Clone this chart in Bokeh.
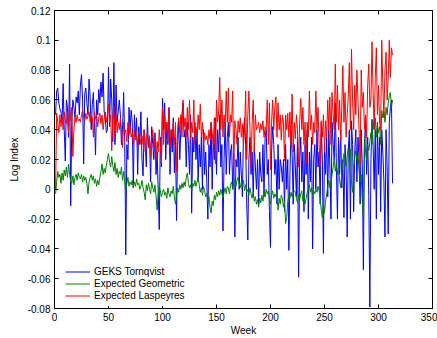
from bokeh.plotting import figure
from bokeh.models import LinearAxis, FixedTicker, CustomJSTickFormatter, Legend, LegendItem, Range1d
from bokeh.embed import file_html
from bokeh.resources import INLINE

x_ticks = [0, 50, 100, 150, 200, 250, 300, 350]
y_ticks = [-0.08, -0.06, -0.04, -0.02, 0.0, 0.02, 0.04, 0.06, 0.08, 0.1, 0.12]

series_names = ["GEKS Tornqvist", "Expected Geometric", "Expected Laspeyres"]

geks_tornqvist = [
    0.050, 0.066, 0.068, 0.058, 0.054, 0.052, 0.045, 0.071, 0.040, 0.019,
    0.060, 0.055, 0.035, 0.084, -0.011, 0.045, 0.060, 0.055, 0.048, 0.062,
    0.058, 0.066, 0.050, 0.070, 0.077, 0.060, 0.017, 0.064, 0.068, 0.058,
    0.050, 0.074, 0.062, 0.040, 0.057, 0.065, 0.045, 0.023, 0.060, 0.050,
    0.067, 0.058, 0.072, 0.062, 0.078, 0.052, 0.048, 0.038, 0.040, 0.082,
    0.042, 0.074, 0.060, 0.032, 0.085, 0.030, 0.070, 0.045, 0.052, 0.060,
    0.050, 0.030, 0.040, 0.065, 0.035, -0.044, 0.030, 0.020, 0.055, 0.040,
    0.053, 0.045, 0.001, 0.050, 0.035, 0.048, 0.010, 0.042, 0.030, 0.052,
    0.020, 0.009, 0.040, 0.030, 0.015, 0.048, 0.028, 0.035, 0.005, 0.042,
    0.030, 0.020, 0.038, 0.010, 0.025, 0.000, -0.027, 0.035, 0.015, 0.061,
    0.040, 0.058, 0.020, 0.045, 0.030, 0.055, 0.010, 0.040, 0.025, 0.048,
    0.011, 0.035, -0.021, 0.030, 0.045, 0.020, 0.040, 0.050, 0.058, 0.035,
    0.040, 0.015, 0.045, 0.030, 0.010, 0.050, -0.016, 0.035, 0.025, 0.045,
    0.020, 0.040, 0.005, 0.030, 0.015, 0.035, 0.000, 0.040, 0.010, 0.025,
    0.005, -0.020, 0.030, 0.015, 0.045, 0.000, 0.035, 0.020, 0.048, 0.010,
    0.040, 0.025, 0.050, 0.015, 0.030, -0.028, 0.020, 0.045, 0.010, 0.035,
    0.045, 0.010, 0.025, 0.030, 0.000, 0.024, -0.032, 0.020, 0.015, 0.035,
    0.000, 0.025, 0.010, -0.005, 0.040, 0.048, 0.030, -0.010, -0.034, 0.020,
    0.035, 0.010, 0.025, -0.005, 0.030, 0.015, 0.000, 0.020, -0.010, 0.025,
    0.010, 0.005, 0.030, -0.005, 0.035, 0.040, 0.010, 0.020, -0.015, -0.039,
    0.025, 0.042, 0.030, 0.010, 0.020, -0.010, 0.030, 0.000, 0.020, 0.015,
    0.005, 0.020, -0.015, 0.030, 0.000, 0.020, -0.041, 0.010, 0.040, 0.025,
    -0.010, 0.030, 0.015, -0.005, 0.035, -0.059, 0.020, 0.035, 0.005, 0.025,
    -0.015, 0.030, 0.010, 0.040, -0.020, 0.025, 0.005, 0.035, -0.040, 0.020,
    0.030, 0.000, 0.040, 0.015, 0.025, -0.010, 0.045, 0.020, -0.043, 0.030,
    0.010, 0.035, -0.005, 0.040, 0.015, -0.020, 0.045, 0.030, 0.020, 0.058,
    0.015, -0.020, 0.035, 0.010, 0.040, 0.001, 0.020, -0.019, 0.030, 0.015,
    -0.032, 0.025, 0.040, -0.020, 0.046, 0.030, -0.015, 0.025, 0.040, 0.005,
    0.035, 0.020, -0.010, 0.040, 0.015, -0.054, 0.030, 0.048, 0.010, 0.035,
    -0.005, -0.079, 0.020, 0.047, 0.030, 0.000, 0.040, -0.020, 0.045, 0.010,
    0.035, -0.015, 0.040, 0.025, 0.005, -0.032, 0.040, 0.015, -0.030, 0.045,
    0.055, 0.060, 0.004,
]

expected_geometric = [
    -0.003, 0.005, 0.012, 0.008, 0.010, 0.004, 0.011, 0.006, 0.013, 0.009,
    0.015, 0.008, 0.017, 0.010, 0.005, 0.004, 0.009, 0.003, 0.008, 0.010,
    0.006, 0.011, 0.008, 0.007, 0.010, 0.005, 0.009, 0.006, 0.008, 0.004,
    -0.003, 0.005, 0.008, 0.010, 0.006, 0.009, 0.004, 0.007, 0.002, 0.006,
    0.003, 0.008, 0.012, 0.017, 0.010, 0.014, 0.011, 0.016, 0.020, 0.024,
    0.018, 0.015, 0.022, 0.016, 0.012, 0.018, 0.010, 0.014, 0.008, 0.012,
    0.010, 0.015, 0.006, 0.012, 0.005, -0.001, 0.004, 0.008, 0.002, 0.005,
    0.003, 0.006, 0.001, 0.005, 0.002, 0.007, 0.003, 0.004, 0.000, 0.002,
    0.006, 0.001, -0.002, -0.007, 0.003, -0.001, 0.004, 0.000, -0.003, 0.005,
    0.001, -0.002, 0.003, -0.004, -0.014, -0.003, 0.002, -0.001, -0.005, -0.002,
    0.000, -0.004, -0.002, -0.006, 0.001, -0.003, -0.005, -0.001, -0.003, 0.002,
    -0.005, -0.010, -0.004, 0.001, -0.002, 0.003, 0.000, 0.004, 0.001, 0.005,
    0.002, 0.008, 0.011, 0.004, 0.001, 0.003, -0.001, 0.004, 0.002, 0.006,
    0.002, 0.005, 0.008, 0.003, -0.002, 0.001, -0.004, 0.002, -0.001, -0.005,
    -0.003, -0.009, -0.005, -0.012, -0.016, -0.008, -0.011, -0.004, -0.007, -0.002,
    -0.005, -0.001, -0.004, 0.000, -0.003, -0.006, -0.002, 0.001, -0.003, 0.002,
    0.001, -0.003, 0.003, 0.005, 0.000, 0.004, 0.007, 0.002, 0.006, 0.008,
    0.004, 0.001, 0.005, 0.002, 0.006, -0.001, 0.003, -0.002, 0.000, -0.004,
    0.001, -0.003, -0.006, -0.002, -0.008, -0.005, -0.010, -0.007, -0.012, -0.006,
    -0.009, -0.004, -0.008, -0.002, -0.005, 0.000, -0.003, -0.001, -0.007, -0.010,
    -0.004, -0.001, -0.006, -0.003, -0.005, -0.002, -0.014, -0.006, -0.010, -0.004,
    -0.006, -0.012, -0.008, -0.023, -0.019, -0.008, -0.004, -0.006, -0.002, -0.005,
    -0.003, -0.001, -0.002, -0.006, -0.009, -0.004, -0.007, -0.003, -0.001, -0.008,
    -0.004, -0.010, -0.006, -0.002, 0.000, 0.003, -0.002, 0.001, -0.004, -0.001,
    -0.003, 0.000, -0.002, 0.002, -0.001, -0.006, -0.014, -0.019, -0.010, -0.016,
    -0.008, -0.003, 0.002, 0.006, 0.001, 0.004, 0.010, 0.015, 0.021, 0.012,
    0.017, 0.010, 0.013, 0.006, 0.001, 0.012, 0.018, 0.024, 0.020, 0.015,
    0.022, 0.028, 0.024, 0.027, 0.004, -0.002, 0.015, 0.022, 0.026, 0.020,
    0.023, 0.013, 0.005, 0.010, -0.008, -0.019, 0.035, 0.025, 0.020, 0.030,
    0.026, 0.032, 0.038, 0.030, 0.046, 0.040, 0.048, 0.035, 0.044, 0.038,
    0.042, 0.030, 0.053, 0.048, 0.052, 0.045, 0.055, 0.050, 0.058, 0.063,
    0.065, 0.055, 0.060,
]

expected_laspeyres = [
    0.000, 0.051, 0.045, 0.038, 0.050, 0.042, 0.048, 0.040, 0.052, 0.046,
    0.044, 0.050, 0.038, 0.056, 0.046, 0.055, 0.022, 0.040, 0.048, 0.045,
    0.050, 0.046, 0.047, 0.045, 0.050, 0.053, 0.048, 0.046, 0.051, 0.047,
    0.049, 0.052, 0.045, 0.050, 0.048, 0.035, 0.052, 0.047, 0.050, 0.042,
    0.048, 0.051, 0.044, 0.050, 0.040, 0.047, 0.052, 0.045, 0.050, 0.057,
    0.045, 0.050, 0.026, 0.048, 0.056, 0.035, 0.050, 0.038, 0.045, 0.040,
    0.048, 0.040, 0.028, 0.045, 0.038, 0.040, 0.032, 0.045, 0.036, 0.042,
    0.035, 0.038, 0.030, 0.040, 0.033, 0.036, 0.028, 0.038, 0.034, 0.031,
    0.036, 0.030, 0.040, 0.025, 0.035, 0.038, 0.028, 0.036, 0.022, 0.034,
    0.040, 0.028, 0.035, 0.020, 0.032, 0.025, 0.040, 0.030, 0.018, 0.055,
    0.030, 0.050, 0.038, 0.045, 0.032, 0.054, 0.028, 0.040, 0.035, 0.045,
    0.030, 0.045, 0.012, 0.040, 0.048, 0.038, 0.050, 0.035, 0.060, 0.042,
    0.048, 0.035, 0.055, 0.040, 0.060, 0.033, 0.045, 0.038, 0.060, 0.030,
    0.042, 0.036, 0.050, 0.040, 0.057, 0.035, 0.045, 0.030, 0.038, 0.033,
    0.036, 0.030, 0.040, 0.034, 0.045, 0.038, 0.030, 0.048, 0.017, 0.060,
    0.045, 0.052, 0.075, 0.040, 0.060, 0.035, 0.050, 0.042, 0.066, 0.045,
    0.068, 0.035, 0.050, 0.045, 0.066, 0.015, 0.046, 0.040, 0.030, 0.046,
    0.038, 0.048, 0.035, 0.044, 0.030, 0.040, 0.066, 0.020, 0.050, 0.066,
    0.040, 0.014, 0.045, 0.060, 0.025, 0.050, 0.040, 0.042, 0.045, 0.038,
    0.044, 0.040, 0.046, 0.035, 0.042, 0.040, 0.060, 0.030, 0.058, 0.013,
    0.045, 0.060, 0.040, 0.055, 0.062, 0.035, 0.058, 0.040, 0.050, 0.033,
    0.050, 0.045, 0.019, 0.050, 0.040, 0.051, 0.035, 0.052, 0.030, 0.064,
    0.025, 0.045, 0.034, 0.050, 0.040, 0.015, 0.045, 0.061, 0.040, 0.055,
    0.030, 0.045, 0.017, 0.045, 0.035, 0.066, 0.040, 0.050, 0.030, 0.045,
    0.038, 0.066, 0.040, 0.055, 0.030, 0.016, 0.046, 0.035, 0.050, 0.025,
    0.046, 0.035, 0.060, 0.040, 0.062, 0.030, 0.065, 0.050, 0.040, 0.084,
    0.045, 0.070, 0.040, 0.060, 0.032, 0.055, 0.083, 0.045, 0.065, 0.035,
    0.050, 0.062, 0.085, 0.040, 0.094, 0.060, 0.040, 0.070, 0.050, 0.080,
    0.060, 0.040, 0.017, 0.080, 0.055, 0.065, 0.040, 0.050, 0.035, 0.070,
    0.084, 0.055, 0.060, 0.099, 0.065, 0.040, 0.075, 0.095, 0.050, 0.070,
    0.045, 0.040, 0.100, 0.070, 0.048, 0.080, 0.092, 0.060, 0.075, 0.100,
    0.075, 0.095, 0.090,
]

FONT = "Liberation Sans"

p = figure(width=437, height=338, output_backend="svg", toolbar_location=None,
           x_range=Range1d(0, 350), y_range=Range1d(-0.08, 0.12),
           min_border_left=54, min_border_right=5, min_border_top=10, min_border_bottom=30)
p.background_fill_color = "white"
p.border_fill_color = "white"
p.outline_line_color = "black"
p.outline_line_width = 1
p.xgrid.visible = False
p.ygrid.visible = False

fmt = CustomJSTickFormatter(code="return String(Number(tick.toFixed(2)));")
blank = CustomJSTickFormatter(code="return '';")

def style_axis(ax, ticks, labels=True):
    ax.ticker = FixedTicker(ticks=ticks)
    ax.minor_tick_line_color = None
    ax.major_tick_in = 4
    ax.major_tick_out = 0
    ax.axis_line_color = "black"
    ax.major_tick_line_color = "black"
    ax.major_label_text_font = FONT
    ax.major_label_text_font_size = "10px"
    ax.major_label_text_color = "black"
    ax.axis_label_text_font = FONT
    ax.axis_label_text_font_size = "10px"
    ax.axis_label_text_font_style = "normal"
    ax.axis_label_text_color = "black"
    if not labels:
        ax.formatter = blank
        ax.major_label_standoff = 0

style_axis(p.xaxis[0], x_ticks)
style_axis(p.yaxis[0], y_ticks)
p.yaxis[0].formatter = fmt
p.xaxis.axis_label = "Week"
p.yaxis.axis_label = "Log Index"
p.xaxis.major_label_standoff = 4
p.xaxis.axis_label_standoff = 1
p.yaxis.major_label_standoff = 4
p.yaxis.axis_label_standoff = 5

top = LinearAxis()
style_axis(top, x_ticks, labels=False)
right = LinearAxis()
style_axis(right, y_ticks, labels=False)
p.add_layout(top, "above")
p.add_layout(right, "right")

colors = ["#0000ff", "#008000", "#ff0000"]
datas = [geks_tornqvist, expected_geometric, expected_laspeyres]
renderers = []
for vals, c in zip(datas, colors):
    weeks = list(range(1, len(vals) + 1))
    r = p.line(weeks, vals, line_color=c, line_width=1)
    renderers.append(r)

legend = Legend(items=[LegendItem(label=n, renderers=[r]) for n, r in zip(series_names, renderers)],
                location=(6, 2), orientation="vertical")
legend.margin = 0
legend.padding = 5
legend.spacing = 1
legend.label_height = 11
legend.glyph_height = 11
legend.glyph_width = 25
legend.label_standoff = 4
legend.label_text_font = FONT
legend.label_text_font_size = "10px"
legend.label_text_color = "black"
legend.background_fill_color = "white"
legend.background_fill_alpha = 1.0
legend.border_line_alpha = 0
p.add_layout(legend, "center")

open("out.html", "w").write(file_html(p, INLINE))
